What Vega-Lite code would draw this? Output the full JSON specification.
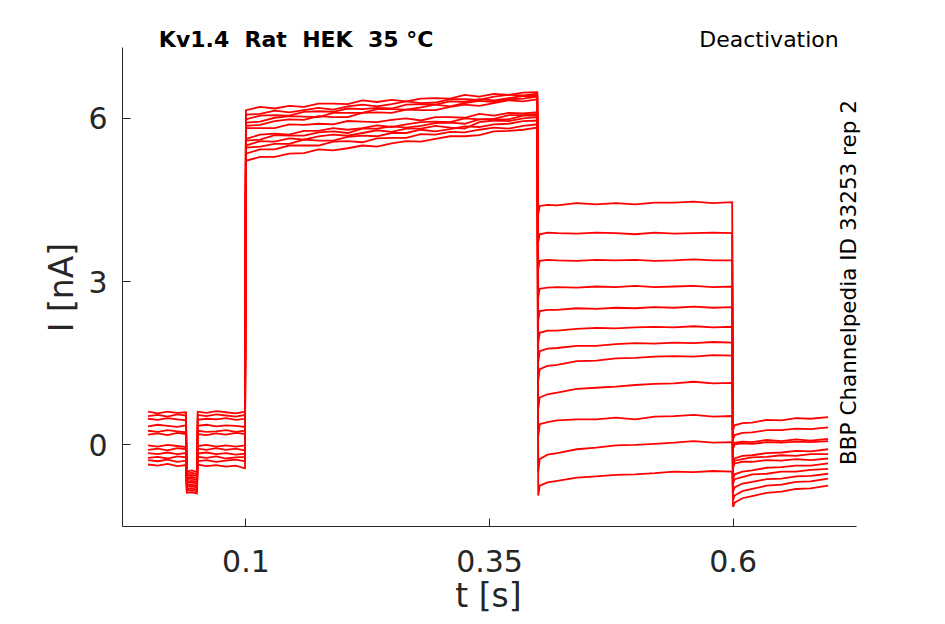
{
  "$schema": "https://vega.github.io/schema/vega-lite/v6.json",
  "width": 734,
  "height": 479,
  "autosize": {"type": "none"},
  "padding": {"left": 122, "top": 47, "right": 89, "bottom": 98},
  "background": "white",
  "config": {"view": {"stroke": null}, "font": "DejaVu Sans"},
  "datasets": {
    "sweeps": [
      {"s":1,"t":0,"i":0.6},{"s":1,"t":0.01,"i":0.57},{"s":1,"t":0.02,"i":0.6},{"s":1,"t":0.03,"i":0.58},{"s":1,"t":0.039,"i":0.59},{"s":1,"t":0.0398,"i":-0.5},{"s":1,"t":0.045,"i":-0.48},{"s":1,"t":0.0502,"i":-0.51},{"s":1,"t":0.051,"i":0.6},{"s":1,"t":0.06,"i":0.58},{"s":1,"t":0.07,"i":0.61},{"s":1,"t":0.08,"i":0.59},{"s":1,"t":0.09,"i":0.57},{"s":1,"t":0.0995,"i":0.6},
      {"s":1,"t":0.1005,"i":6.14},{"s":1,"t":0.115,"i":6.2},{"s":1,"t":0.13,"i":6.17},{"s":1,"t":0.145,"i":6.22},{"s":1,"t":0.16,"i":6.2},{"s":1,"t":0.175,"i":6.26},{"s":1,"t":0.19,"i":6.26},{"s":1,"t":0.205,"i":6.25},{"s":1,"t":0.22,"i":6.32},{"s":1,"t":0.235,"i":6.29},{"s":1,"t":0.25,"i":6.33},{"s":1,"t":0.265,"i":6.3},{"s":1,"t":0.28,"i":6.35},{"s":1,"t":0.295,"i":6.36},{"s":1,"t":0.31,"i":6.35},{"s":1,"t":0.325,"i":6.42},{"s":1,"t":0.34,"i":6.39},{"s":1,"t":0.355,"i":6.44},{"s":1,"t":0.37,"i":6.42},{"s":1,"t":0.385,"i":6.46},{"s":1,"t":0.3995,"i":6.47},
      {"s":1,"t":0.4005,"i":4.23},{"s":1,"t":0.402,"i":4.38},{"s":1,"t":0.41,"i":4.4},{"s":1,"t":0.42,"i":4.39},{"s":1,"t":0.44,"i":4.43},{"s":1,"t":0.46,"i":4.41},{"s":1,"t":0.48,"i":4.43},{"s":1,"t":0.5,"i":4.41},{"s":1,"t":0.52,"i":4.44},{"s":1,"t":0.54,"i":4.44},{"s":1,"t":0.56,"i":4.46},{"s":1,"t":0.58,"i":4.43},{"s":1,"t":0.5995,"i":4.45},
      {"s":1,"t":0.6005,"i":0.27},{"s":1,"t":0.602,"i":0.35},{"s":1,"t":0.61,"i":0.39},{"s":1,"t":0.62,"i":0.4},{"s":1,"t":0.635,"i":0.45},{"s":1,"t":0.65,"i":0.44},{"s":1,"t":0.665,"i":0.48},{"s":1,"t":0.68,"i":0.47},{"s":1,"t":0.698,"i":0.5},

      {"s":2,"t":0,"i":0.52},{"s":2,"t":0.01,"i":0.54},{"s":2,"t":0.02,"i":0.51},{"s":2,"t":0.03,"i":0.55},{"s":2,"t":0.039,"i":0.53},{"s":2,"t":0.0398,"i":-0.54},{"s":2,"t":0.045,"i":-0.52},{"s":2,"t":0.0502,"i":-0.55},{"s":2,"t":0.051,"i":0.54},{"s":2,"t":0.06,"i":0.52},{"s":2,"t":0.07,"i":0.55},{"s":2,"t":0.08,"i":0.53},{"s":2,"t":0.09,"i":0.51},{"s":2,"t":0.0995,"i":0.54},
      {"s":2,"t":0.1005,"i":6.06},{"s":2,"t":0.115,"i":6.07},{"s":2,"t":0.13,"i":6.13},{"s":2,"t":0.145,"i":6.1},{"s":2,"t":0.16,"i":6.14},{"s":2,"t":0.175,"i":6.18},{"s":2,"t":0.19,"i":6.15},{"s":2,"t":0.205,"i":6.21},{"s":2,"t":0.22,"i":6.24},{"s":2,"t":0.235,"i":6.21},{"s":2,"t":0.25,"i":6.25},{"s":2,"t":0.265,"i":6.3},{"s":2,"t":0.28,"i":6.27},{"s":2,"t":0.295,"i":6.28},{"s":2,"t":0.31,"i":6.34},{"s":2,"t":0.325,"i":6.34},{"s":2,"t":0.34,"i":6.33},{"s":2,"t":0.355,"i":6.39},{"s":2,"t":0.37,"i":6.42},{"s":2,"t":0.385,"i":6.41},{"s":2,"t":0.3995,"i":6.44},
      {"s":2,"t":0.4005,"i":3.72},{"s":2,"t":0.402,"i":3.86},{"s":2,"t":0.41,"i":3.89},{"s":2,"t":0.42,"i":3.88},{"s":2,"t":0.44,"i":3.87},{"s":2,"t":0.46,"i":3.89},{"s":2,"t":0.48,"i":3.88},{"s":2,"t":0.5,"i":3.86},{"s":2,"t":0.52,"i":3.89},{"s":2,"t":0.54,"i":3.87},{"s":2,"t":0.56,"i":3.88},{"s":2,"t":0.58,"i":3.89},{"s":2,"t":0.5995,"i":3.88},
      {"s":2,"t":0.6005,"i":0.09},{"s":2,"t":0.602,"i":0.17},{"s":2,"t":0.61,"i":0.21},{"s":2,"t":0.62,"i":0.22},{"s":2,"t":0.635,"i":0.26},{"s":2,"t":0.65,"i":0.26},{"s":2,"t":0.665,"i":0.29},{"s":2,"t":0.68,"i":0.28},{"s":2,"t":0.698,"i":0.31},

      {"s":3,"t":0,"i":0.47},{"s":3,"t":0.01,"i":0.45},{"s":3,"t":0.02,"i":0.48},{"s":3,"t":0.03,"i":0.46},{"s":3,"t":0.039,"i":0.44},{"s":3,"t":0.0398,"i":-0.57},{"s":3,"t":0.045,"i":-0.56},{"s":3,"t":0.0502,"i":-0.58},{"s":3,"t":0.051,"i":0.45},{"s":3,"t":0.06,"i":0.47},{"s":3,"t":0.07,"i":0.46},{"s":3,"t":0.08,"i":0.48},{"s":3,"t":0.09,"i":0.45},{"s":3,"t":0.0995,"i":0.47},
      {"s":3,"t":0.1005,"i":5.97},{"s":3,"t":0.115,"i":6.04},{"s":3,"t":0.13,"i":6.05},{"s":3,"t":0.145,"i":6.04},{"s":3,"t":0.16,"i":6.11},{"s":3,"t":0.175,"i":6.12},{"s":3,"t":0.19,"i":6.11},{"s":3,"t":0.205,"i":6.17},{"s":3,"t":0.22,"i":6.16},{"s":3,"t":0.235,"i":6.18},{"s":3,"t":0.25,"i":6.17},{"s":3,"t":0.265,"i":6.24},{"s":3,"t":0.28,"i":6.25},{"s":3,"t":0.295,"i":6.24},{"s":3,"t":0.31,"i":6.3},{"s":3,"t":0.325,"i":6.29},{"s":3,"t":0.34,"i":6.34},{"s":3,"t":0.355,"i":6.32},{"s":3,"t":0.37,"i":6.36},{"s":3,"t":0.385,"i":6.4},{"s":3,"t":0.3995,"i":6.4},
      {"s":3,"t":0.4005,"i":3.22},{"s":3,"t":0.402,"i":3.37},{"s":3,"t":0.41,"i":3.39},{"s":3,"t":0.42,"i":3.38},{"s":3,"t":0.44,"i":3.37},{"s":3,"t":0.46,"i":3.39},{"s":3,"t":0.48,"i":3.38},{"s":3,"t":0.5,"i":3.39},{"s":3,"t":0.52,"i":3.37},{"s":3,"t":0.54,"i":3.38},{"s":3,"t":0.56,"i":3.4},{"s":3,"t":0.58,"i":3.38},{"s":3,"t":0.5995,"i":3.38},
      {"s":3,"t":0.6005,"i":-0.05},{"s":3,"t":0.602,"i":0.03},{"s":3,"t":0.61,"i":0.05},{"s":3,"t":0.62,"i":0.04},{"s":3,"t":0.635,"i":0.08},{"s":3,"t":0.65,"i":0.06},{"s":3,"t":0.665,"i":0.09},{"s":3,"t":0.68,"i":0.07},{"s":3,"t":0.698,"i":0.1},

      {"s":4,"t":0,"i":0.33},{"s":4,"t":0.01,"i":0.36},{"s":4,"t":0.02,"i":0.34},{"s":4,"t":0.03,"i":0.32},{"s":4,"t":0.039,"i":0.35},{"s":4,"t":0.0398,"i":-0.61},{"s":4,"t":0.045,"i":-0.6},{"s":4,"t":0.0502,"i":-0.62},{"s":4,"t":0.051,"i":0.34},{"s":4,"t":0.06,"i":0.36},{"s":4,"t":0.07,"i":0.33},{"s":4,"t":0.08,"i":0.35},{"s":4,"t":0.09,"i":0.34},{"s":4,"t":0.0995,"i":0.32},
      {"s":4,"t":0.1005,"i":5.91},{"s":4,"t":0.115,"i":5.93},{"s":4,"t":0.13,"i":6.0},{"s":4,"t":0.145,"i":6.03},{"s":4,"t":0.16,"i":6.02},{"s":4,"t":0.175,"i":6.01},{"s":4,"t":0.19,"i":6.09},{"s":4,"t":0.205,"i":6.09},{"s":4,"t":0.22,"i":6.09},{"s":4,"t":0.235,"i":6.16},{"s":4,"t":0.25,"i":6.16},{"s":4,"t":0.265,"i":6.15},{"s":4,"t":0.28,"i":6.19},{"s":4,"t":0.295,"i":6.24},{"s":4,"t":0.31,"i":6.21},{"s":4,"t":0.325,"i":6.27},{"s":4,"t":0.34,"i":6.31},{"s":4,"t":0.355,"i":6.29},{"s":4,"t":0.37,"i":6.34},{"s":4,"t":0.385,"i":6.35},{"s":4,"t":0.3995,"i":6.39},
      {"s":4,"t":0.4005,"i":2.7},{"s":4,"t":0.402,"i":2.86},{"s":4,"t":0.41,"i":2.88},{"s":4,"t":0.42,"i":2.89},{"s":4,"t":0.44,"i":2.88},{"s":4,"t":0.46,"i":2.9},{"s":4,"t":0.48,"i":2.89},{"s":4,"t":0.5,"i":2.91},{"s":4,"t":0.52,"i":2.89},{"s":4,"t":0.54,"i":2.9},{"s":4,"t":0.56,"i":2.91},{"s":4,"t":0.58,"i":2.89},{"s":4,"t":0.5995,"i":2.9},
      {"s":4,"t":0.6005,"i":-0.08},{"s":4,"t":0.602,"i":0.0},{"s":4,"t":0.61,"i":0.02},{"s":4,"t":0.62,"i":0.01},{"s":4,"t":0.635,"i":0.04},{"s":4,"t":0.65,"i":0.03},{"s":4,"t":0.665,"i":0.05},{"s":4,"t":0.68,"i":0.04},{"s":4,"t":0.698,"i":0.06},

      {"s":5,"t":0,"i":0.25},{"s":5,"t":0.01,"i":0.23},{"s":5,"t":0.02,"i":0.26},{"s":5,"t":0.03,"i":0.24},{"s":5,"t":0.039,"i":0.22},{"s":5,"t":0.0398,"i":-0.64},{"s":5,"t":0.045,"i":-0.63},{"s":5,"t":0.0502,"i":-0.66},{"s":5,"t":0.051,"i":0.25},{"s":5,"t":0.06,"i":0.23},{"s":5,"t":0.07,"i":0.24},{"s":5,"t":0.08,"i":0.26},{"s":5,"t":0.09,"i":0.23},{"s":5,"t":0.0995,"i":0.25},
      {"s":5,"t":0.1005,"i":5.85},{"s":5,"t":0.115,"i":5.87},{"s":5,"t":0.13,"i":5.94},{"s":5,"t":0.145,"i":5.97},{"s":5,"t":0.16,"i":5.96},{"s":5,"t":0.175,"i":6.03},{"s":5,"t":0.19,"i":6.01},{"s":5,"t":0.205,"i":6.01},{"s":5,"t":0.22,"i":6.09},{"s":5,"t":0.235,"i":6.1},{"s":5,"t":0.25,"i":6.09},{"s":5,"t":0.265,"i":6.15},{"s":5,"t":0.28,"i":6.14},{"s":5,"t":0.295,"i":6.14},{"s":5,"t":0.31,"i":6.2},{"s":5,"t":0.325,"i":6.24},{"s":5,"t":0.34,"i":6.22},{"s":5,"t":0.355,"i":6.27},{"s":5,"t":0.37,"i":6.32},{"s":5,"t":0.385,"i":6.3},{"s":5,"t":0.3995,"i":6.34},
      {"s":5,"t":0.4005,"i":2.28},{"s":5,"t":0.402,"i":2.45},{"s":5,"t":0.41,"i":2.47},{"s":5,"t":0.42,"i":2.47},{"s":5,"t":0.44,"i":2.5},{"s":5,"t":0.46,"i":2.49},{"s":5,"t":0.48,"i":2.51},{"s":5,"t":0.5,"i":2.5},{"s":5,"t":0.52,"i":2.52},{"s":5,"t":0.54,"i":2.51},{"s":5,"t":0.56,"i":2.53},{"s":5,"t":0.58,"i":2.51},{"s":5,"t":0.5995,"i":2.52},
      {"s":5,"t":0.6005,"i":-0.34},{"s":5,"t":0.602,"i":-0.26},{"s":5,"t":0.61,"i":-0.21},{"s":5,"t":0.62,"i":-0.2},{"s":5,"t":0.635,"i":-0.16},{"s":5,"t":0.65,"i":-0.15},{"s":5,"t":0.665,"i":-0.12},{"s":5,"t":0.68,"i":-0.13},{"s":5,"t":0.698,"i":-0.09},

      {"s":6,"t":0,"i":0.18},{"s":6,"t":0.01,"i":0.2},{"s":6,"t":0.02,"i":0.17},{"s":6,"t":0.03,"i":0.21},{"s":6,"t":0.039,"i":0.19},{"s":6,"t":0.0398,"i":-0.68},{"s":6,"t":0.045,"i":-0.67},{"s":6,"t":0.0502,"i":-0.69},{"s":6,"t":0.051,"i":0.19},{"s":6,"t":0.06,"i":0.17},{"s":6,"t":0.07,"i":0.2},{"s":6,"t":0.08,"i":0.18},{"s":6,"t":0.09,"i":0.21},{"s":6,"t":0.0995,"i":0.19},
      {"s":6,"t":0.1005,"i":5.81},{"s":6,"t":0.115,"i":5.81},{"s":6,"t":0.13,"i":5.81},{"s":6,"t":0.145,"i":5.88},{"s":6,"t":0.16,"i":5.87},{"s":6,"t":0.175,"i":5.89},{"s":6,"t":0.19,"i":5.88},{"s":6,"t":0.205,"i":5.94},{"s":6,"t":0.22,"i":5.93},{"s":6,"t":0.235,"i":5.92},{"s":6,"t":0.25,"i":5.96},{"s":6,"t":0.265,"i":5.99},{"s":6,"t":0.28,"i":5.95},{"s":6,"t":0.295,"i":6.01},{"s":6,"t":0.31,"i":6.01},{"s":6,"t":0.325,"i":6.0},{"s":6,"t":0.34,"i":6.07},{"s":6,"t":0.355,"i":6.04},{"s":6,"t":0.37,"i":6.09},{"s":6,"t":0.385,"i":6.08},{"s":6,"t":0.3995,"i":6.1},
      {"s":6,"t":0.4005,"i":1.88},{"s":6,"t":0.402,"i":2.05},{"s":6,"t":0.41,"i":2.09},{"s":6,"t":0.42,"i":2.09},{"s":6,"t":0.44,"i":2.12},{"s":6,"t":0.46,"i":2.14},{"s":6,"t":0.48,"i":2.13},{"s":6,"t":0.5,"i":2.15},{"s":6,"t":0.52,"i":2.16},{"s":6,"t":0.54,"i":2.15},{"s":6,"t":0.56,"i":2.17},{"s":6,"t":0.58,"i":2.15},{"s":6,"t":0.5995,"i":2.16},
      {"s":6,"t":0.6005,"i":-0.38},{"s":6,"t":0.602,"i":-0.3},{"s":6,"t":0.61,"i":-0.27},{"s":6,"t":0.62,"i":-0.24},{"s":6,"t":0.635,"i":-0.23},{"s":6,"t":0.65,"i":-0.2},{"s":6,"t":0.665,"i":-0.21},{"s":6,"t":0.68,"i":-0.18},{"s":6,"t":0.698,"i":-0.18},

      {"s":7,"t":0,"i":-0.02},{"s":7,"t":0.01,"i":-0.04},{"s":7,"t":0.02,"i":-0.01},{"s":7,"t":0.03,"i":-0.03},{"s":7,"t":0.039,"i":-0.05},{"s":7,"t":0.0398,"i":-0.71},{"s":7,"t":0.045,"i":-0.7},{"s":7,"t":0.0502,"i":-0.72},{"s":7,"t":0.051,"i":-0.03},{"s":7,"t":0.06,"i":-0.01},{"s":7,"t":0.07,"i":-0.04},{"s":7,"t":0.08,"i":-0.02},{"s":7,"t":0.09,"i":-0.04},{"s":7,"t":0.0995,"i":-0.02},
      {"s":7,"t":0.1005,"i":5.61},{"s":7,"t":0.115,"i":5.69},{"s":7,"t":0.13,"i":5.71},{"s":7,"t":0.145,"i":5.69},{"s":7,"t":0.16,"i":5.76},{"s":7,"t":0.175,"i":5.76},{"s":7,"t":0.19,"i":5.81},{"s":7,"t":0.205,"i":5.78},{"s":7,"t":0.22,"i":5.81},{"s":7,"t":0.235,"i":5.86},{"s":7,"t":0.25,"i":5.83},{"s":7,"t":0.265,"i":5.88},{"s":7,"t":0.28,"i":5.92},{"s":7,"t":0.295,"i":5.93},{"s":7,"t":0.31,"i":5.92},{"s":7,"t":0.325,"i":5.99},{"s":7,"t":0.34,"i":5.97},{"s":7,"t":0.355,"i":5.98},{"s":7,"t":0.37,"i":6.05},{"s":7,"t":0.385,"i":6.05},{"s":7,"t":0.3995,"i":6.07},
      {"s":7,"t":0.4005,"i":1.52},{"s":7,"t":0.402,"i":1.71},{"s":7,"t":0.41,"i":1.76},{"s":7,"t":0.42,"i":1.77},{"s":7,"t":0.44,"i":1.81},{"s":7,"t":0.46,"i":1.81},{"s":7,"t":0.48,"i":1.84},{"s":7,"t":0.5,"i":1.86},{"s":7,"t":0.52,"i":1.85},{"s":7,"t":0.54,"i":1.87},{"s":7,"t":0.56,"i":1.86},{"s":7,"t":0.58,"i":1.88},{"s":7,"t":0.5995,"i":1.87},
      {"s":7,"t":0.6005,"i":-0.43},{"s":7,"t":0.602,"i":-0.35},{"s":7,"t":0.61,"i":-0.32},{"s":7,"t":0.62,"i":-0.32},{"s":7,"t":0.635,"i":-0.29},{"s":7,"t":0.65,"i":-0.3},{"s":7,"t":0.665,"i":-0.27},{"s":7,"t":0.68,"i":-0.29},{"s":7,"t":0.698,"i":-0.26},

      {"s":8,"t":0,"i":-0.1},{"s":8,"t":0.01,"i":-0.08},{"s":8,"t":0.02,"i":-0.11},{"s":8,"t":0.03,"i":-0.07},{"s":8,"t":0.039,"i":-0.09},{"s":8,"t":0.0398,"i":-0.75},{"s":8,"t":0.045,"i":-0.74},{"s":8,"t":0.0502,"i":-0.76},{"s":8,"t":0.051,"i":-0.08},{"s":8,"t":0.06,"i":-0.1},{"s":8,"t":0.07,"i":-0.07},{"s":8,"t":0.08,"i":-0.1},{"s":8,"t":0.09,"i":-0.08},{"s":8,"t":0.0995,"i":-0.11},
      {"s":8,"t":0.1005,"i":5.58},{"s":8,"t":0.115,"i":5.6},{"s":8,"t":0.13,"i":5.68},{"s":8,"t":0.145,"i":5.67},{"s":8,"t":0.16,"i":5.67},{"s":8,"t":0.175,"i":5.73},{"s":8,"t":0.19,"i":5.75},{"s":8,"t":0.205,"i":5.72},{"s":8,"t":0.22,"i":5.8},{"s":8,"t":0.235,"i":5.8},{"s":8,"t":0.25,"i":5.84},{"s":8,"t":0.265,"i":5.82},{"s":8,"t":0.28,"i":5.85},{"s":8,"t":0.295,"i":5.9},{"s":8,"t":0.31,"i":5.91},{"s":8,"t":0.325,"i":5.89},{"s":8,"t":0.34,"i":5.97},{"s":8,"t":0.355,"i":5.97},{"s":8,"t":0.37,"i":5.97},{"s":8,"t":0.385,"i":6.04},{"s":8,"t":0.3995,"i":6.04},
      {"s":8,"t":0.4005,"i":1.18},{"s":8,"t":0.402,"i":1.38},{"s":8,"t":0.41,"i":1.44},{"s":8,"t":0.42,"i":1.46},{"s":8,"t":0.44,"i":1.53},{"s":8,"t":0.46,"i":1.54},{"s":8,"t":0.48,"i":1.58},{"s":8,"t":0.5,"i":1.59},{"s":8,"t":0.52,"i":1.61},{"s":8,"t":0.54,"i":1.62},{"s":8,"t":0.56,"i":1.61},{"s":8,"t":0.58,"i":1.64},{"s":8,"t":0.5995,"i":1.63},
      {"s":8,"t":0.6005,"i":-0.63},{"s":8,"t":0.602,"i":-0.55},{"s":8,"t":0.61,"i":-0.5},{"s":8,"t":0.62,"i":-0.48},{"s":8,"t":0.635,"i":-0.43},{"s":8,"t":0.65,"i":-0.42},{"s":8,"t":0.665,"i":-0.39},{"s":8,"t":0.68,"i":-0.39},{"s":8,"t":0.698,"i":-0.35},

      {"s":9,"t":0,"i":-0.16},{"s":9,"t":0.01,"i":-0.18},{"s":9,"t":0.02,"i":-0.15},{"s":9,"t":0.03,"i":-0.18},{"s":9,"t":0.039,"i":-0.16},{"s":9,"t":0.0398,"i":-0.78},{"s":9,"t":0.045,"i":-0.77},{"s":9,"t":0.0502,"i":-0.79},{"s":9,"t":0.051,"i":-0.17},{"s":9,"t":0.06,"i":-0.15},{"s":9,"t":0.07,"i":-0.18},{"s":9,"t":0.08,"i":-0.16},{"s":9,"t":0.09,"i":-0.19},{"s":9,"t":0.0995,"i":-0.17},
      {"s":9,"t":0.1005,"i":5.49},{"s":9,"t":0.115,"i":5.57},{"s":9,"t":0.13,"i":5.56},{"s":9,"t":0.145,"i":5.62},{"s":9,"t":0.16,"i":5.6},{"s":9,"t":0.175,"i":5.66},{"s":9,"t":0.19,"i":5.69},{"s":9,"t":0.205,"i":5.67},{"s":9,"t":0.22,"i":5.72},{"s":9,"t":0.235,"i":5.77},{"s":9,"t":0.25,"i":5.74},{"s":9,"t":0.265,"i":5.8},{"s":9,"t":0.28,"i":5.8},{"s":9,"t":0.295,"i":5.85},{"s":9,"t":0.31,"i":5.82},{"s":9,"t":0.325,"i":5.8},{"s":9,"t":0.34,"i":5.92},{"s":9,"t":0.355,"i":5.95},{"s":9,"t":0.37,"i":5.94},{"s":9,"t":0.385,"i":5.99},{"s":9,"t":0.3995,"i":6.01},
      {"s":9,"t":0.4005,"i":0.66},{"s":9,"t":0.402,"i":0.86},{"s":9,"t":0.41,"i":0.92},{"s":9,"t":0.42,"i":0.95},{"s":9,"t":0.44,"i":1.02},{"s":9,"t":0.46,"i":1.04},{"s":9,"t":0.48,"i":1.06},{"s":9,"t":0.5,"i":1.09},{"s":9,"t":0.52,"i":1.11},{"s":9,"t":0.54,"i":1.12},{"s":9,"t":0.56,"i":1.15},{"s":9,"t":0.58,"i":1.12},{"s":9,"t":0.5995,"i":1.13},
      {"s":9,"t":0.6005,"i":-0.72},{"s":9,"t":0.602,"i":-0.64},{"s":9,"t":0.61,"i":-0.6},{"s":9,"t":0.62,"i":-0.55},{"s":9,"t":0.635,"i":-0.54},{"s":9,"t":0.65,"i":-0.5},{"s":9,"t":0.665,"i":-0.5},{"s":9,"t":0.68,"i":-0.47},{"s":9,"t":0.698,"i":-0.45},

      {"s":10,"t":0,"i":-0.25},{"s":10,"t":0.01,"i":-0.23},{"s":10,"t":0.02,"i":-0.26},{"s":10,"t":0.03,"i":-0.22},{"s":10,"t":0.039,"i":-0.24},{"s":10,"t":0.0398,"i":-0.82},{"s":10,"t":0.045,"i":-0.81},{"s":10,"t":0.0502,"i":-0.83},{"s":10,"t":0.051,"i":-0.23},{"s":10,"t":0.06,"i":-0.25},{"s":10,"t":0.07,"i":-0.22},{"s":10,"t":0.08,"i":-0.26},{"s":10,"t":0.09,"i":-0.24},{"s":10,"t":0.0995,"i":-0.23},
      {"s":10,"t":0.1005,"i":5.45},{"s":10,"t":0.115,"i":5.47},{"s":10,"t":0.13,"i":5.52},{"s":10,"t":0.145,"i":5.52},{"s":10,"t":0.16,"i":5.6},{"s":10,"t":0.175,"i":5.58},{"s":10,"t":0.19,"i":5.58},{"s":10,"t":0.205,"i":5.65},{"s":10,"t":0.22,"i":5.67},{"s":10,"t":0.235,"i":5.66},{"s":10,"t":0.25,"i":5.72},{"s":10,"t":0.265,"i":5.72},{"s":10,"t":0.28,"i":5.78},{"s":10,"t":0.295,"i":5.75},{"s":10,"t":0.31,"i":5.79},{"s":10,"t":0.325,"i":5.84},{"s":10,"t":0.34,"i":5.83},{"s":10,"t":0.355,"i":5.88},{"s":10,"t":0.37,"i":5.89},{"s":10,"t":0.385,"i":5.94},{"s":10,"t":0.3995,"i":5.95},
      {"s":10,"t":0.4005,"i":0.15},{"s":10,"t":0.402,"i":0.37},{"s":10,"t":0.41,"i":0.41},{"s":10,"t":0.42,"i":0.44},{"s":10,"t":0.44,"i":0.46},{"s":10,"t":0.46,"i":0.46},{"s":10,"t":0.48,"i":0.49},{"s":10,"t":0.5,"i":0.46},{"s":10,"t":0.52,"i":0.51},{"s":10,"t":0.54,"i":0.52},{"s":10,"t":0.56,"i":0.54},{"s":10,"t":0.58,"i":0.51},{"s":10,"t":0.5995,"i":0.52},
      {"s":10,"t":0.6005,"i":-0.87},{"s":10,"t":0.602,"i":-0.79},{"s":10,"t":0.61,"i":-0.72},{"s":10,"t":0.62,"i":-0.69},{"s":10,"t":0.635,"i":-0.64},{"s":10,"t":0.65,"i":-0.63},{"s":10,"t":0.665,"i":-0.59},{"s":10,"t":0.68,"i":-0.58},{"s":10,"t":0.698,"i":-0.54},

      {"s":11,"t":0,"i":-0.29},{"s":11,"t":0.01,"i":-0.31},{"s":11,"t":0.02,"i":-0.28},{"s":11,"t":0.03,"i":-0.32},{"s":11,"t":0.039,"i":-0.3},{"s":11,"t":0.0398,"i":-0.85},{"s":11,"t":0.045,"i":-0.84},{"s":11,"t":0.0502,"i":-0.86},{"s":11,"t":0.051,"i":-0.31},{"s":11,"t":0.06,"i":-0.29},{"s":11,"t":0.07,"i":-0.32},{"s":11,"t":0.08,"i":-0.3},{"s":11,"t":0.09,"i":-0.28},{"s":11,"t":0.0995,"i":-0.31},
      {"s":11,"t":0.1005,"i":5.34},{"s":11,"t":0.115,"i":5.42},{"s":11,"t":0.13,"i":5.42},{"s":11,"t":0.145,"i":5.49},{"s":11,"t":0.16,"i":5.49},{"s":11,"t":0.175,"i":5.49},{"s":11,"t":0.19,"i":5.56},{"s":11,"t":0.205,"i":5.57},{"s":11,"t":0.22,"i":5.55},{"s":11,"t":0.235,"i":5.62},{"s":11,"t":0.25,"i":5.63},{"s":11,"t":0.265,"i":5.63},{"s":11,"t":0.28,"i":5.7},{"s":11,"t":0.295,"i":5.69},{"s":11,"t":0.31,"i":5.74},{"s":11,"t":0.325,"i":5.73},{"s":11,"t":0.34,"i":5.78},{"s":11,"t":0.355,"i":5.82},{"s":11,"t":0.37,"i":5.8},{"s":11,"t":0.385,"i":5.85},{"s":11,"t":0.3995,"i":5.88},
      {"s":11,"t":0.4005,"i":-0.5},{"s":11,"t":0.402,"i":-0.27},{"s":11,"t":0.41,"i":-0.19},{"s":11,"t":0.42,"i":-0.16},{"s":11,"t":0.44,"i":-0.09},{"s":11,"t":0.46,"i":-0.06},{"s":11,"t":0.48,"i":-0.02},{"s":11,"t":0.5,"i":-0.01},{"s":11,"t":0.52,"i":0.01},{"s":11,"t":0.54,"i":0.03},{"s":11,"t":0.56,"i":0.06},{"s":11,"t":0.58,"i":0.03},{"s":11,"t":0.5995,"i":0.04},
      {"s":11,"t":0.6005,"i":-1.02},{"s":11,"t":0.602,"i":-0.94},{"s":11,"t":0.61,"i":-0.86},{"s":11,"t":0.62,"i":-0.82},{"s":11,"t":0.635,"i":-0.76},{"s":11,"t":0.65,"i":-0.74},{"s":11,"t":0.665,"i":-0.69},{"s":11,"t":0.68,"i":-0.68},{"s":11,"t":0.698,"i":-0.63},

      {"s":12,"t":0,"i":-0.37},{"s":12,"t":0.01,"i":-0.39},{"s":12,"t":0.02,"i":-0.36},{"s":12,"t":0.03,"i":-0.4},{"s":12,"t":0.039,"i":-0.38},{"s":12,"t":0.0398,"i":-0.89},{"s":12,"t":0.045,"i":-0.88},{"s":12,"t":0.0502,"i":-0.9},{"s":12,"t":0.051,"i":-0.37},{"s":12,"t":0.06,"i":-0.4},{"s":12,"t":0.07,"i":-0.38},{"s":12,"t":0.08,"i":-0.41},{"s":12,"t":0.09,"i":-0.39},{"s":12,"t":0.0995,"i":-0.44},
      {"s":12,"t":0.1005,"i":5.21},{"s":12,"t":0.115,"i":5.28},{"s":12,"t":0.13,"i":5.28},{"s":12,"t":0.145,"i":5.34},{"s":12,"t":0.16,"i":5.35},{"s":12,"t":0.175,"i":5.42},{"s":12,"t":0.19,"i":5.4},{"s":12,"t":0.205,"i":5.44},{"s":12,"t":0.22,"i":5.49},{"s":12,"t":0.235,"i":5.47},{"s":12,"t":0.25,"i":5.53},{"s":12,"t":0.265,"i":5.57},{"s":12,"t":0.28,"i":5.56},{"s":12,"t":0.295,"i":5.61},{"s":12,"t":0.31,"i":5.66},{"s":12,"t":0.325,"i":5.66},{"s":12,"t":0.34,"i":5.68},{"s":12,"t":0.355,"i":5.75},{"s":12,"t":0.37,"i":5.76},{"s":12,"t":0.385,"i":5.78},{"s":12,"t":0.3995,"i":5.82},
      {"s":12,"t":0.4005,"i":-0.94},{"s":12,"t":0.402,"i":-0.76},{"s":12,"t":0.41,"i":-0.7},{"s":12,"t":0.42,"i":-0.67},{"s":12,"t":0.44,"i":-0.61},{"s":12,"t":0.46,"i":-0.59},{"s":12,"t":0.48,"i":-0.56},{"s":12,"t":0.5,"i":-0.55},{"s":12,"t":0.52,"i":-0.53},{"s":12,"t":0.54,"i":-0.5},{"s":12,"t":0.56,"i":-0.51},{"s":12,"t":0.58,"i":-0.49},{"s":12,"t":0.5995,"i":-0.5},
      {"s":12,"t":0.6005,"i":-1.15},{"s":12,"t":0.602,"i":-1.07},{"s":12,"t":0.61,"i":-0.99},{"s":12,"t":0.62,"i":-0.95},{"s":12,"t":0.635,"i":-0.89},{"s":12,"t":0.65,"i":-0.87},{"s":12,"t":0.665,"i":-0.82},{"s":12,"t":0.68,"i":-0.81},{"s":12,"t":0.698,"i":-0.76}
    ]
  },
  "layer": [
    {
      "data": {"name": "sweeps"},
      "mark": {"type": "line", "color": "#ff0000", "strokeWidth": 1.8},
      "encoding": {
        "x": {
          "field": "t",
          "type": "quantitative",
          "scale": {"domain": [-0.0267, 0.7266], "nice": false, "zero": false},
          "axis": {
            "values": [0.1, 0.35, 0.6],
            "format": "~g",
            "grid": false,
            "title": "t [s]",
            "domainColor": "#262626",
            "tickColor": "#262626",
            "tickSize": -8,
            "labelFontSize": 30,
            "labelColor": "#262626",
            "labelPadding": 53,
            "labelBaseline": "alphabetic",
            "labelFlush": false,
            "labelOverlap": false,
            "titleFontSize": 33,
            "titleFontWeight": "normal",
            "titleColor": "#262626",
            "titleX": 366,
            "titleY": 80,
            "titleAlign": "center",
            "titleBaseline": "alphabetic"
          }
        },
        "y": {
          "field": "i",
          "type": "quantitative",
          "scale": {"domain": [-1.5, 7.3], "nice": false, "zero": false},
          "axis": {
            "values": [0, 3, 6],
            "format": "~g",
            "grid": false,
            "title": "I [nA]",
            "domainColor": "#262626",
            "tickColor": "#262626",
            "tickSize": -8,
            "labelFontSize": 30,
            "labelColor": "#262626",
            "labelPadding": 23,
            "labelBaseline": "middle",
            "labelOffset": 2,
            "labelFlush": false,
            "labelOverlap": false,
            "titleFontSize": 33,
            "titleFontWeight": "normal",
            "titleColor": "#262626",
            "titleAngle": 270,
            "titleX": -50,
            "titleY": 240,
            "titleAlign": "center",
            "titleBaseline": "alphabetic"
          }
        },
        "detail": {"field": "s", "type": "nominal"}
      }
    },
    {
      "data": {"values": [{"note": "Kv1.4\u00a0\u00a0Rat\u00a0\u00a0HEK\u00a0\u00a035\u00a0°C"}]},
      "mark": {"type": "text", "fontSize": 22, "fontWeight": "bold", "align": "left", "baseline": "alphabetic", "color": "#000000"},
      "encoding": {
        "x": {"datum": 0.0111, "type": "quantitative"},
        "y": {"datum": 7.305, "type": "quantitative"},
        "text": {"field": "note"}
      }
    },
    {
      "data": {"values": [{"note": "Deactivation"}]},
      "mark": {"type": "text", "fontSize": 22, "align": "right", "baseline": "alphabetic", "color": "#000000"},
      "encoding": {
        "x": {"datum": 0.7089, "type": "quantitative"},
        "y": {"datum": 7.305, "type": "quantitative"},
        "text": {"field": "note"}
      }
    },
    {
      "data": {"values": [{"note": "BBP Channelpedia ID 33253 rep 2"}]},
      "mark": {"type": "text", "fontSize": 21.5, "angle": 270, "align": "center", "baseline": "alphabetic", "color": "#000000"},
      "encoding": {
        "x": {"datum": 0.7271, "type": "quantitative"},
        "y": {"datum": 2.973, "type": "quantitative"},
        "text": {"field": "note"}
      }
    }
  ]
}
